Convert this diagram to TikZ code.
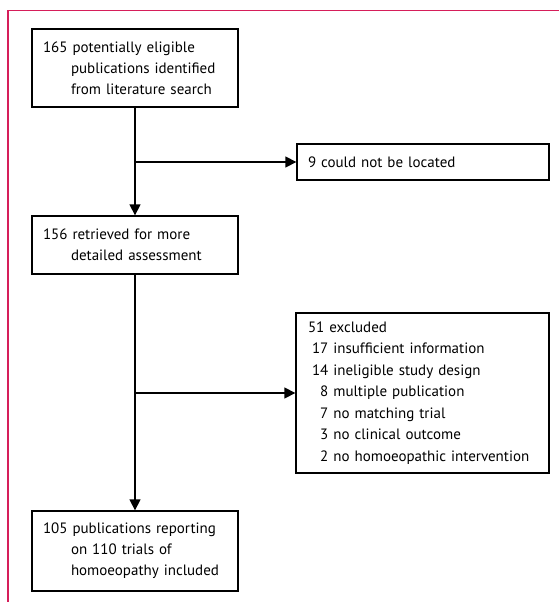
\documentclass[tikz,border=0pt]{standalone}
\usepackage{fontspec}
\setmainfont{PT Sans}
\usetikzlibrary{arrows.meta}
\definecolor{framecol}{RGB}{214,30,90}
\begin{document}
\begin{tikzpicture}[x=1pt,y=-1pt,
  box/.style={draw=black,line width=1.3pt,rectangle,inner xsep=11pt,inner ysep=0pt,
    align=left,font=\fontsize{15}{21}\selectfont,anchor=center},
  conn/.style={line width=1.3pt,-{Triangle[width=11pt,length=11pt]}}]
\useasboundingbox (0,0) rectangle (559,602);
\fill[white] (0,0) rectangle (559,602);
\draw[framecol,line width=1.5pt] (8,602) -- (8,10.5) -- (559,10.5);
\newcommand\ind{\hspace*{28pt}}
\newcommand\nb[1]{\phantom{1}#1}
\node[box,minimum width=206pt,minimum height=78pt,text width=184pt] (b1) at (135,68)
  {165 potentially eligible\\\ind publications identified\\\ind from literature search};
\node[box,minimum width=252pt,minimum height=36pt,text width=230pt] (b2) at (423,162)
  {9 could not be located};
\node[box,minimum width=206pt,minimum height=58pt,text width=184pt] (b3) at (135,245)
  {156 retrieved for more\\\ind detailed assessment};
\node[box,minimum width=251pt,minimum height=160pt,text width=229pt,inner xsep=12pt,
  font=\fontsize{15}{21.5}\selectfont] (b4) at (422.5,393)
  {51 excluded\\
   \hspace*{4pt}17 insufficient information\\
   \hspace*{4pt}14 ineligible study design\\
   \hspace*{4pt}\nb{8} multiple publication\\
   \hspace*{4pt}\nb{7} no matching trial\\
   \hspace*{4pt}\nb{3} no clinical outcome\\
   \hspace*{4pt}\nb{2} no homoeopathic intervention};
\node[box,minimum width=206pt,minimum height=80pt,text width=184pt] (b5) at (135,551)
  {105 publications reporting\\\ind on 110 trials of\\\ind homoeopathy included};
\coordinate (j1) at (b1.south |- b2.west);
\coordinate (j2) at (b3.south |- b4.west);
\draw[conn] (b1.south) -- (b3.north);
\draw[conn] (j1) -- (b2.west);
\draw[conn] (b3.south) -- (b5.north);
\draw[conn] (j2) -- (b4.west);
\end{tikzpicture}
\end{document}
